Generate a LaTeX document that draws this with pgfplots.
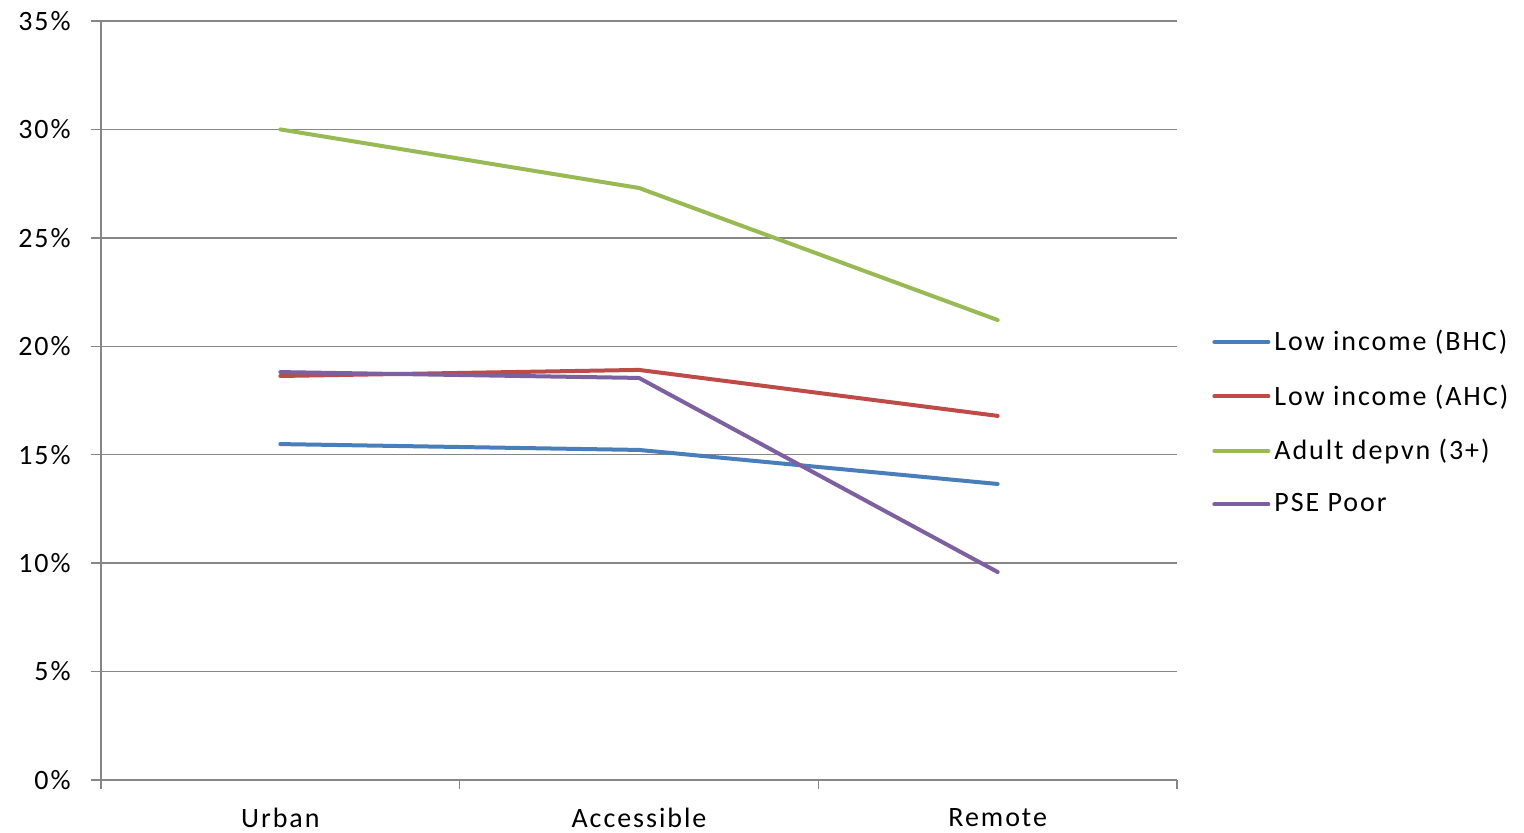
\documentclass[border=0pt]{standalone}
\usepackage{pgfplots}
\pgfplotsset{compat=1.18}
\usepackage{fontspec}
\setmainfont{Carlito}[LetterSpace=7]
\definecolor{sBlue}{HTML}{4A7EBB}
\definecolor{sRed}{HTML}{BE4B48}
\definecolor{sGreen}{HTML}{98B954}
\definecolor{sPurple}{HTML}{7D60A0}
\definecolor{gridgray}{HTML}{868686}
\begin{document}
\begin{tikzpicture}[x=1pt,y=1pt]
\useasboundingbox (0,0) rectangle (762,416.5);
\begin{axis}[
  at={(50.5pt,26.5pt)}, anchor=south west,
  scale only axis, width=538pt, height=379.5pt,
  xmin=-0.5, xmax=2.5, ymin=0, ymax=35,
  ytick={0,5,...,35},
  yticklabel={\pgfmathprintnumber{\tick}\%},
  /pgf/number format/assume math mode=true,
  xtick={0,1,2},
  xticklabels={Urban,Accessible,Remote},
  xtick style={draw=none},
  minor xtick={-0.5,0.5,1.5,2.5},
  minor x tick style={draw=gridgray, line width=0.75pt},
  ytick style={draw=gridgray, line width=0.75pt},
  tick align=outside,
  major tick length=5pt, minor tick length=4.5pt,
  axis x line*=bottom, axis y line*=left,
  axis line style={draw=gridgray, line width=0.75pt, -},
  ymajorgrids, major grid style={draw=gridgray, line width=0.75pt},
  tick label style={font=\fontsize{14pt}{17pt}\selectfont, text=black},
  yticklabel style={anchor=east, inner sep=0pt, xshift=-10pt},
  xticklabel style={anchor=north, inner sep=0pt, yshift=-9pt, text depth=0pt},
  every axis plot/.append style={line width=2pt, line join=round, line cap=round},
  legend style={at={(1.0325,0.471)}, anchor=west, draw=none, fill=none,
    inner sep=0pt, row sep=15.5pt, font=\fontsize{14pt}{17pt}\selectfont,
    nodes={inner xsep=2pt, inner ysep=0pt}},
  legend cell align=left,
  legend image code/.code={\draw[#1, line cap=round] (0pt,0pt) -- (27pt,0pt);},
]
\addplot[sBlue] coordinates {(0,15.49) (1,15.22) (2,13.65)};
\addlegendentry{Low income (BHC)}
\addplot[sRed] coordinates {(0,18.63) (1,18.91) (2,16.79)};
\addlegendentry{Low income (AHC)}
\addplot[sGreen] coordinates {(0,30.0) (1,27.30) (2,21.21)};
\addlegendentry{Adult depvn (3+)}
\addplot[sPurple] coordinates {(0,18.81) (1,18.54) (2,9.59)};
\addlegendentry{PSE Poor}
\end{axis}
\end{tikzpicture}
\end{document}
